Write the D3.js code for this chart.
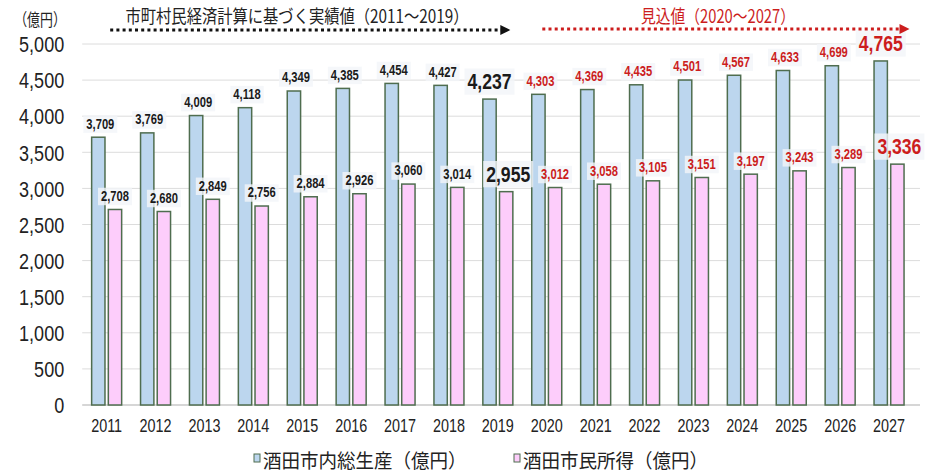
<!DOCTYPE html>
<html><head><meta charset="utf-8">
<script src="https://cdn.jsdelivr.net/npm/d3@7"></script>
<style>
html,body{margin:0;padding:0;background:#fff;}
svg{display:block;}
</style></head>
<body>
<script>
// ---- data ----
const years = ["2011","2012","2013","2014","2015","2016","2017","2018","2019","2020","2021","2022","2023","2024","2025","2026","2027"];
const gdp = [3709,3769,4009,4118,4349,4385,4454,4427,4237,4303,4369,4435,4501,4567,4633,4699,4765];
const income = [2708,2680,2849,2756,2884,2926,3060,3014,2955,3012,3058,3105,3151,3197,3243,3289,3336];
const yTicks = [0,500,1000,1500,2000,2500,3000,3500,4000,4500,5000];
const seriesNames = ["酒田市内総生産（億円）","酒田市民所得（億円）"];
const unitLabel = "（億円）";
const actualTitle = "市町村民経済計算に基づく実績値（2011～2019）";
const forecastTitle = "見込値（2020～2027）";
const firstForecastYear = "2020";
const emphasizedYears = ["2019","2027"];

(function(){
// ---- layout ----
const W = 950, H = 474;
const mLeft = 82.2, mRight = 913.5, mTop = 44, mBottom = 405;
const blueFill = "#bcd6ee", pinkFill = "#fdcdfb", barStroke = "#4f6d4f";
const red = "#cc1d1d";
const fmt = d3.format(",");

const svg = d3.select("body").append("svg").attr("width", W).attr("height", H);

const x0 = d3.scaleBand().domain(years).range([mLeft, mRight]).padding(0);
const bw = x0.bandwidth();
const x1 = d3.scaleBand().domain([0,1]).range([bw/2 - 15, bw/2 + 15]).paddingInner(0.2);
const y = d3.scaleLinear().domain([0, 5000]).range([mBottom, mTop]);

const numFont = "'Liberation Sans',Arial,sans-serif";
const jpFont = "'Noto Sans CJK JP','Noto Sans CJK SC',sans-serif";

function label(parent, x, yy, str, o) {
  const g = parent.append("g").attr("transform", `translate(${x},${yy})`);
  g.append("text")
    .attr("transform", `scale(${o.sx || 1},1)`)
    .attr("text-anchor", o.anchor || "middle")
    .attr("dominant-baseline", "central")
    .attr("font-family", o.font || numFont)
    .attr("font-size", o.size)
    .attr("font-weight", o.weight || "normal")
    .attr("fill", o.color || "#222")
    .text(str);
  if (o.box) {
    const b = g.node().getBBox();
    g.insert("rect", "text")
      .attr("x", b.x - 3).attr("y", b.y - 1)
      .attr("width", b.width + 6).attr("height", b.height + 2)
      .attr("fill", "#f3f5f9").attr("opacity", 0.8);
  }
  return g;
}

// gridlines
svg.append("g").selectAll("line").data(yTicks).join("line")
  .attr("x1", mLeft).attr("x2", 920)
  .attr("y1", d => y(d)).attr("y2", d => y(d))
  .attr("stroke", d => d === 0 ? "#c8c8c8" : "#dcdcdc")
  .attr("stroke-width", d => d === 0 ? 1.5 : 1);

// y axis
const yAxis = svg.append("g").attr("transform", `translate(${mLeft},0)`)
  .call(d3.axisLeft(y).tickValues(yTicks).tickSize(0).tickFormat(fmt));
yAxis.select(".domain").remove();
yAxis.selectAll("text")
  .attr("x", -18 / 0.82).attr("dy", "0.35em")
  .attr("transform", "scale(0.82,1)")
  .attr("font-family", numFont)
  .attr("font-size", 22).attr("fill", "#222");

// x axis
const xAxis = svg.append("g").attr("transform", `translate(0,${mBottom})`)
  .call(d3.axisBottom(x0).tickSize(0));
xAxis.select(".domain").remove();
xAxis.selectAll(".tick text")
  .attr("y", 0).attr("dy", 0)
  .attr("transform", "translate(0,20) scale(0.8,1)")
  .attr("dominant-baseline", "central")
  .attr("font-family", numFont)
  .attr("font-size", 18).attr("fill", "#222");

// bars
const groups = svg.append("g").selectAll("g").data(years).join("g")
  .attr("transform", d => `translate(${x0(d)},0)`);
groups.append("rect")
  .attr("x", x1(0)).attr("width", x1.bandwidth())
  .attr("y", (d,i) => y(gdp[i])).attr("height", (d,i) => y(0) - y(gdp[i]))
  .attr("fill", blueFill).attr("stroke", barStroke).attr("stroke-width", 1.5);
groups.append("rect")
  .attr("x", x1(1)).attr("width", x1.bandwidth())
  .attr("y", (d,i) => y(income[i])).attr("height", (d,i) => y(0) - y(income[i]))
  .attr("fill", pinkFill).attr("stroke", barStroke).attr("stroke-width", 1.5);

// value labels
const fIdx = years.indexOf(firstForecastYear);
const labels = svg.append("g");
years.forEach((yr, i) => {
  const isF = i >= fIdx;
  const big = emphasizedYears.includes(yr);
  const col = isF ? red : "#1a1a1a";
  const cx = x0(yr);
  [[gdp[i], x1(0)], [income[i], x1(1)]].forEach(([v, off], s) => {
    const xx = cx + off + x1.bandwidth() / 2;
    if (big) {
      label(labels, xx + (s === 1 ? 2 : 0), y(v) - 17.5, fmt(v), {
        size: 22, sx: 0.8, color: col, box: true, weight: "bold"
      });
    } else {
      label(labels, xx + (s === 0 ? 2 : 0), y(v) - 13, fmt(v), {
        size: 14, sx: 0.8, color: col, box: true, weight: "bold"
      });
    }
  });
});

// unit label
label(svg, 40, 18, unitLabel, {font: jpFont, size: 17, sx: 0.76, color: "#222"});

// period annotations
const ann = svg.append("g");
function arrow(xa, xb, yy, color) {
  ann.append("line").attr("x1", xa).attr("x2", xb - 9).attr("y1", yy).attr("y2", yy)
    .attr("stroke", color).attr("stroke-width", 3).attr("stroke-dasharray", "3,3.2");
  ann.append("path")
    .attr("d", `M${xb-10},${yy-5}L${xb},${yy}L${xb-10},${yy+5}Z`)
    .attr("fill", color);
}
const blackStart = x0(years[0]) + 28, blackEnd = x0(firstForecastYear) - 12;
const redStart = x0(firstForecastYear) + 20, redEnd = x0(years[years.length-1]) + bw - 4;
arrow(blackStart, blackEnd, 30, "#111");
arrow(redStart, redEnd, 29, red);
label(ann, 297, 15, actualTitle, {font: jpFont, size: 18, sx: 0.85, color: "#222"});
label(ann, 718, 15, forecastTitle, {font: jpFont, size: 18, sx: 0.82, color: red});

// legend
const leg = svg.append("g");
const legItems = [
  {name: seriesNames[0], fill: blueFill, x: 254},
  {name: seriesNames[1], fill: pinkFill, x: 514}
];
legItems.forEach(it => {
  leg.append("rect").attr("x", it.x).attr("y", 454).attr("width", 6).attr("height", 8)
    .attr("fill", it.fill).attr("stroke", barStroke).attr("stroke-width", 1);
  label(leg, it.x + 9, 459, it.name, {font: jpFont, size: 19.5, sx: 0.95, anchor: "start", color: "#222"});
});
})();
</script>
</body></html>
